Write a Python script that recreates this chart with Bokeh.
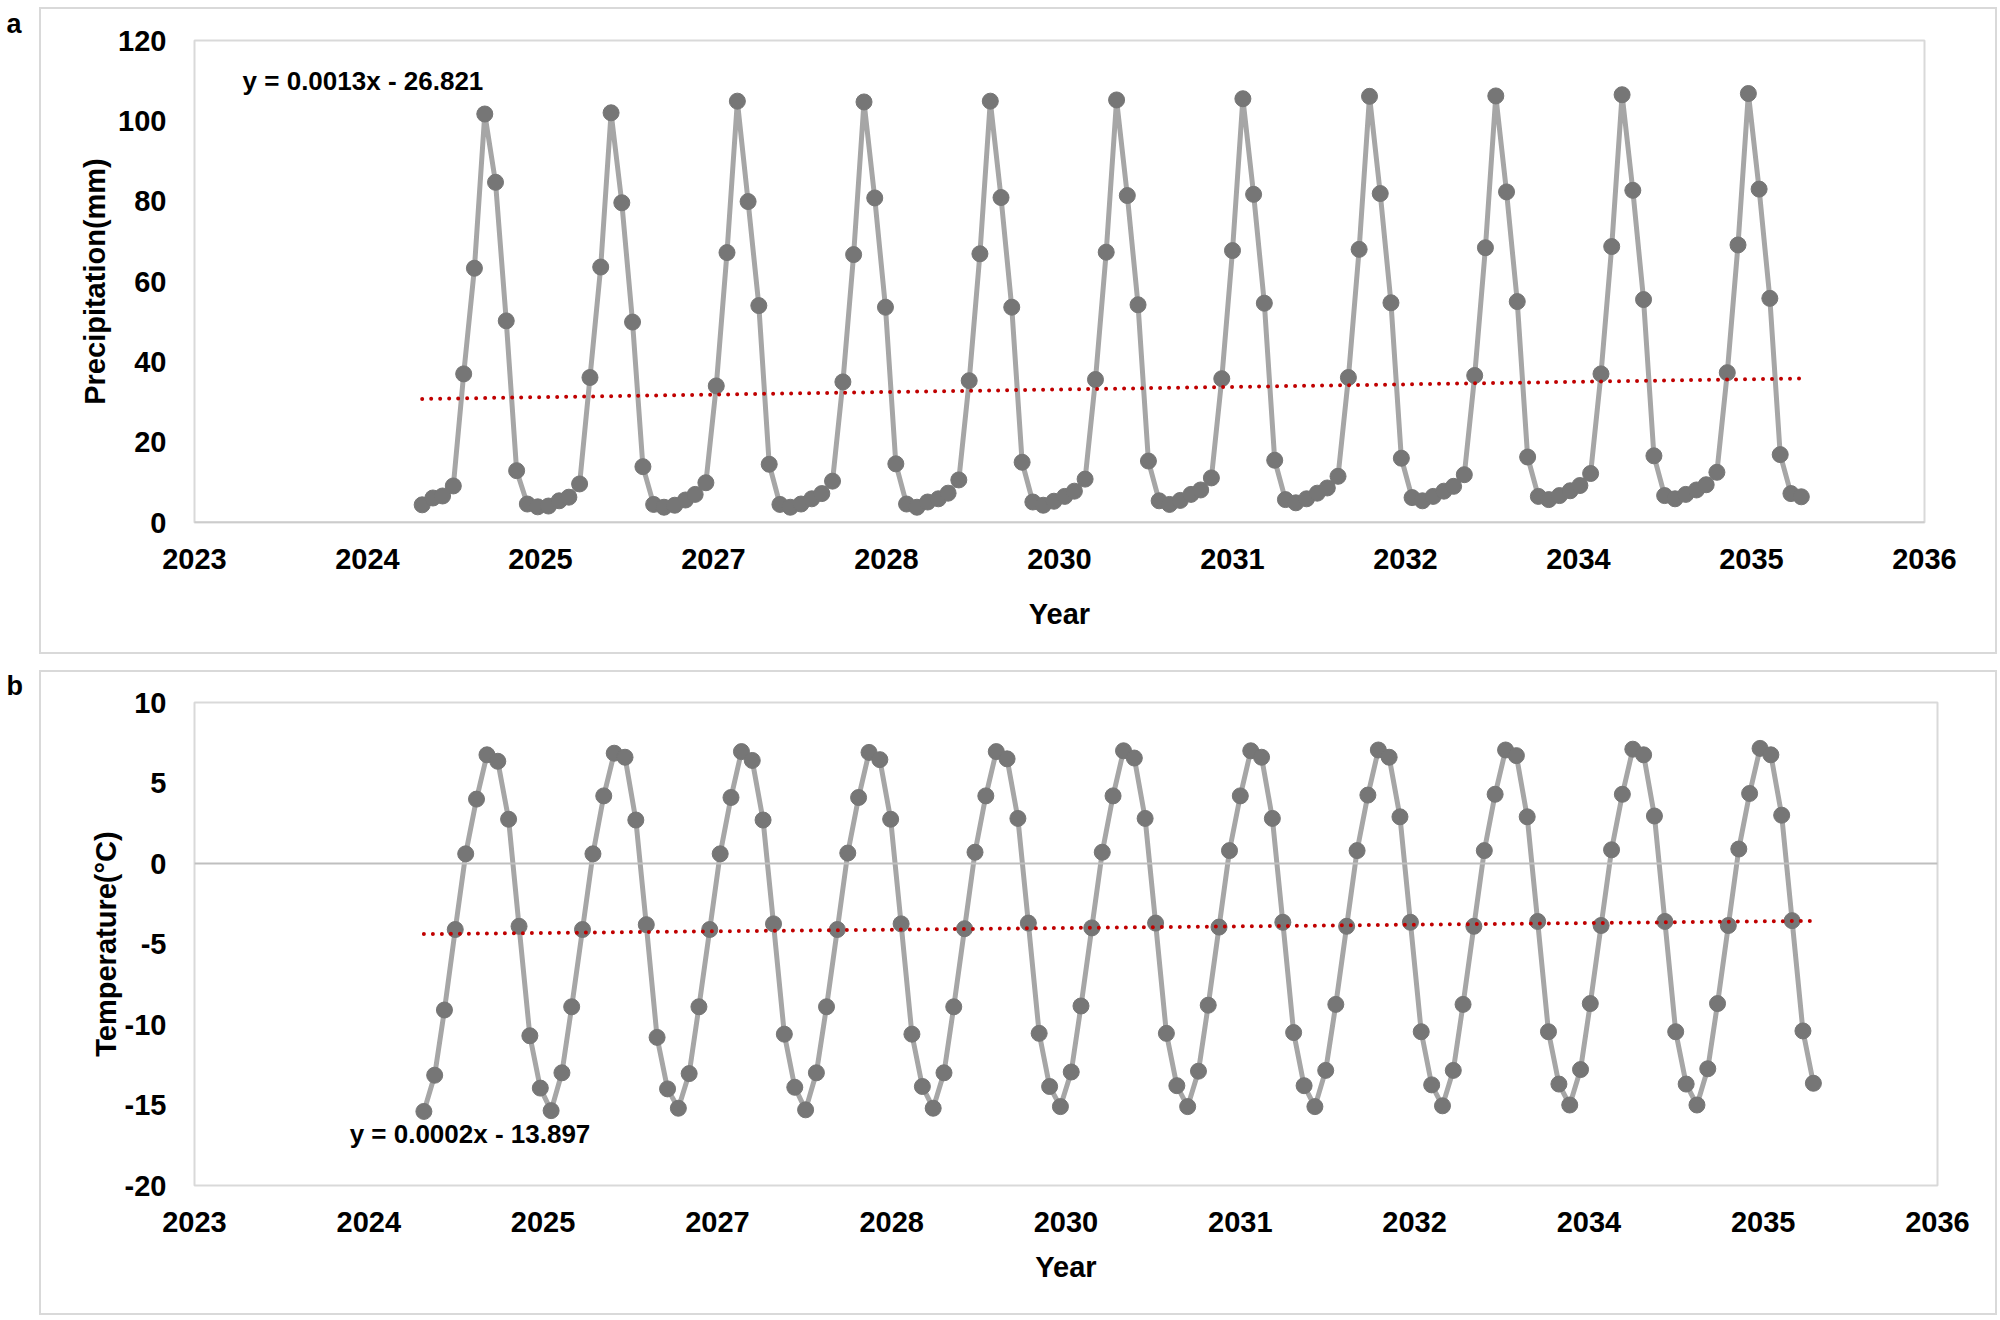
import numpy as np
import pandas as pd
from bokeh.plotting import figure
from bokeh.layouts import column
from bokeh.models import Range1d, FixedTicker, Label, Span
from bokeh.embed import file_html
from bokeh.resources import INLINE

# ---------------- data ----------------
# monthly observations, Jan 2025 .. Dec 2035 (x stored as Excel serial dates)
month_dates = pd.date_range("2025-01-01", "2035-12-01", freq="MS")
x_serial = [(d - pd.Timestamp("1899-12-30")).days for d in month_dates]

precipitation = [
    4.4, 6.1, 6.6, 9.1, 37.0, 63.3, 101.7, 84.7, 50.2, 12.9, 4.6, 3.9,
    4.1, 5.4, 6.3, 9.6, 36.1, 63.6, 102.0, 79.6, 49.9, 13.9, 4.5, 3.8,
    4.3, 5.6, 7.0, 9.9, 34.0, 67.2, 104.9, 79.9, 54.0, 14.5, 4.5, 3.8,
    4.6, 5.9, 7.2, 10.3, 35.0, 66.7, 104.7, 80.8, 53.6, 14.6, 4.6, 3.8,
    5.1, 5.9, 7.3, 10.6, 35.3, 66.9, 104.9, 80.9, 53.6, 15.0, 5.1, 4.3,
    5.3, 6.5, 7.8, 10.8, 35.6, 67.3, 105.2, 81.4, 54.2, 15.3, 5.4, 4.5,
    5.5, 7.0, 8.1, 11.1, 35.8, 67.7, 105.5, 81.7, 54.6, 15.5, 5.7, 4.9,
    5.9, 7.3, 8.6, 11.5, 36.1, 68.0, 106.1, 81.9, 54.7, 16.0, 6.2, 5.4,
    6.5, 7.8, 9.0, 11.9, 36.6, 68.4, 106.2, 82.3, 55.0, 16.3, 6.5, 5.7,
    6.7, 7.9, 9.2, 12.2, 37.0, 68.7, 106.5, 82.7, 55.5, 16.6, 6.7, 5.9,
    7.0, 8.1, 9.4, 12.5, 37.3, 69.1, 106.8, 83.0, 55.8, 16.9, 7.2, 6.4,
]

temperature = [
    -15.4, -13.15, -9.1, -4.1, 0.6, 4.0, 6.75, 6.35, 2.75, -3.9, -10.7, -13.95,
    -15.35, -13.0, -8.9, -4.1, 0.6, 4.2, 6.85, 6.6, 2.7, -3.8, -10.8, -14.0,
    -15.2, -13.05, -8.9, -4.1, 0.6, 4.1, 6.95, 6.4, 2.7, -3.75, -10.6, -13.9,
    -15.3, -13.0, -8.9, -4.1, 0.65, 4.1, 6.9, 6.45, 2.75, -3.75, -10.6, -13.85,
    -15.2, -13.0, -8.9, -4.05, 0.7, 4.2, 6.95, 6.5, 2.8, -3.7, -10.55, -13.85,
    -15.1, -12.95, -8.85, -4.0, 0.7, 4.2, 7.0, 6.55, 2.8, -3.7, -10.55, -13.8,
    -15.1, -12.9, -8.8, -3.95, 0.8, 4.2, 7.0, 6.6, 2.8, -3.65, -10.5, -13.8,
    -15.1, -12.85, -8.75, -3.9, 0.8, 4.25, 7.05, 6.6, 2.9, -3.65, -10.45, -13.75,
    -15.05, -12.85, -8.75, -3.9, 0.8, 4.3, 7.05, 6.7, 2.9, -3.6, -10.45, -13.7,
    -15.0, -12.8, -8.7, -3.85, 0.85, 4.3, 7.1, 6.75, 2.95, -3.6, -10.45, -13.7,
    -15.0, -12.75, -8.7, -3.85, 0.9, 4.35, 7.15, 6.75, 3.0, -3.55, -10.4, -13.65,
]

x_tick_serials = [45000, 45500, 46000, 46500, 47000, 47500, 48000, 48500, 49000, 49500, 50000]
x_tick_labels = ["2023", "2024", "2025", "2027", "2028", "2030", "2031", "2032", "2034", "2035", "2036"]
precip_ticks = [0, 20, 40, 60, 80, 100, 120]
temp_ticks = [-20, -15, -10, -5, 0, 5, 10]

eq_precip = "y = 0.0013x - 26.821"
eq_temp = "y = 0.0002x - 13.897"

# ---------------- style ----------------
FONT = "Liberation Sans"
LINE_C = "#A6A6A6"
MARK_C = "#767676"
TREND_C = "#C00000"
BORDER_C = "#D9D9D9"
TOTAL_W = 1998
LEFT = 194


def box_styles(top, bottom, left=39, right=1997, w=2):
    """CSS background lines drawing the outer chart border of a panel."""
    g = f"linear-gradient({BORDER_C},{BORDER_C})"
    bw, bh = right - left, bottom - top
    return {
        "background-color": "white",
        "background-image": ", ".join([g] * 4),
        "background-size": f"{bw}px {w}px, {bw}px {w}px, {w}px {bh}px, {w}px {bh}px",
        "background-position": (f"{left}px {top}px, {left}px {bottom - w}px, "
                                f"{left}px {top}px, {right - w}px {top}px"),
        "background-repeat": "no-repeat",
    }


def make_panel(y, yr, yticks, ylabel, eq, eq_x, eq_y, letter,
               frame_w, frame_h, mb_top, mb_bottom, title_standoff, xlabel_standoff, box_tb):
    p = figure(frame_width=frame_w, frame_height=frame_h,
               min_border_left=LEFT, min_border_right=TOTAL_W - LEFT - frame_w,
               min_border_top=mb_top, min_border_bottom=mb_bottom,
               x_range=Range1d(45000, 50000), y_range=Range1d(*yr),
               output_backend="svg", toolbar_location=None,
               styles=box_styles(*box_tb))
    p.background_fill_color = "white"
    p.border_fill_color = None
    p.outline_line_color = BORDER_C
    p.outline_line_width = 2
    p.xgrid.visible = False
    p.ygrid.visible = False

    # panel letter as a left-aligned title shifted to the left edge
    p.title.text = letter
    p.title.align = "left"
    p.title.offset = 6 - LEFT
    p.title.vertical_align = "top"
    p.title.standoff = 0
    p.title.text_font = FONT
    p.title.text_font_style = "bold"
    p.title.text_font_size = "27px"
    p.title.text_color = "black"

    p.xaxis.ticker = FixedTicker(ticks=x_tick_serials)
    p.xaxis.major_label_overrides = {t: l for t, l in zip(x_tick_serials, x_tick_labels)}
    p.yaxis.ticker = FixedTicker(ticks=yticks)
    p.yaxis.major_label_overrides = {t: str(t) for t in yticks}
    for ax in (p.xaxis[0], p.yaxis[0]):
        ax.major_tick_in = 0
        ax.major_tick_out = 0
        ax.minor_tick_in = 0
        ax.minor_tick_out = 0
        ax.axis_line_color = None
        ax.major_label_text_font = FONT
        ax.major_label_text_font_style = "bold"
        ax.major_label_text_font_size = "29px"
        ax.major_label_text_color = "black"
        ax.axis_label_text_font = FONT
        ax.axis_label_text_font_style = "bold"
        ax.axis_label_text_font_size = "29px"
        ax.axis_label_text_color = "black"
    p.xaxis.axis_label = "Year"
    p.yaxis.axis_label = ylabel
    p.xaxis.major_label_standoff = 26
    p.xaxis.axis_label_standoff = xlabel_standoff
    p.yaxis.major_label_standoff = 28
    p.yaxis.axis_label_standoff = title_standoff

    # zero / category axis line
    p.add_layout(Span(location=0, dimension="width", line_color="#BFBFBF", line_width=2))

    p.line(x_serial, y, line_color=LINE_C, line_width=5)
    p.scatter(x_serial, y, size=16, fill_color=MARK_C, line_color=MARK_C, line_width=1)

    # linear trend (least squares on the data)
    k, b = np.polyfit(np.array(x_serial, dtype=float), np.array(y, dtype=float), 1)
    tx = [x_serial[0], x_serial[-1]]
    ty = [k * tx[0] + b, k * tx[1] + b]
    p.line(tx, ty, line_color=TREND_C, line_width=4, line_dash="0 9", line_cap="round")

    p.add_layout(Label(x=eq_x, y=eq_y, text=eq, text_font=FONT, text_font_style="bold",
                       text_font_size="26px", text_color="black",
                       text_align="left", text_baseline="middle"))
    return p


pa = make_panel(precipitation, (0, 120), precip_ticks, "Precipitation(mm)",
                eq_precip, 45139, 110.0, "a",
                1730, 482, 40, 140, 4, 26, (7, 654))
pb = make_panel(temperature, (-20, 10), temp_ticks, "Temperature(\u00b0C)",
                eq_temp, 45445, -16.8, "b",
                1743, 483, 40, 133, 0, 16, (8, 653))

layout = column(pa, pb, spacing=0)
open("out.html", "w").write(file_html(layout, INLINE))
